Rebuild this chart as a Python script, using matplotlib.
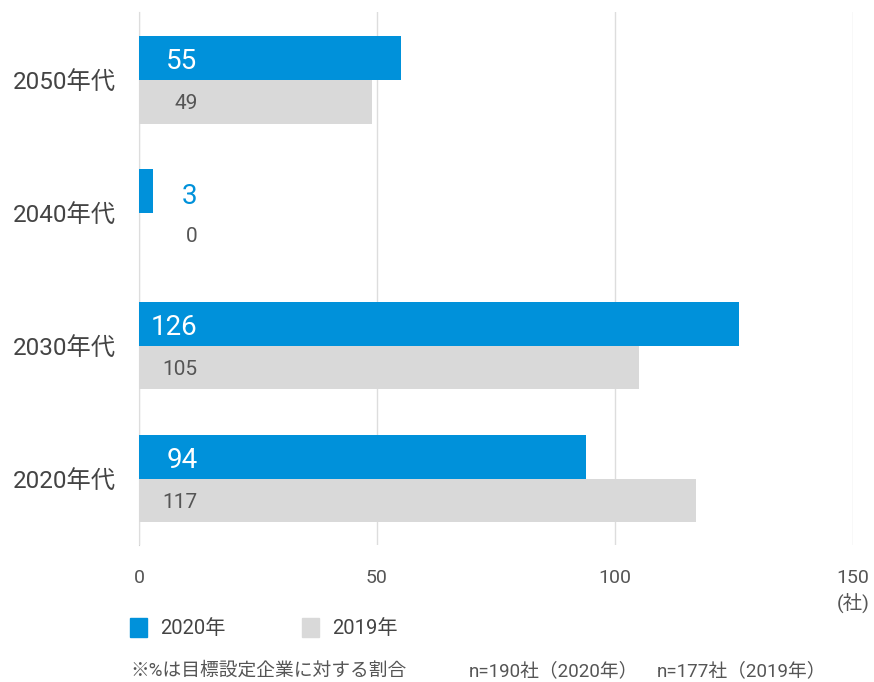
import numpy as np
import matplotlib.pyplot as plt
from matplotlib.patches import Rectangle

plt.rcParams['font.family'] = ['Roboto', 'Noto Sans CJK JP', 'DejaVu Sans']

categories = ['2020年代', '2030年代', '2040年代', '2050年代']
values_2020 = [94, 126, 3, 55]
values_2019 = [117, 105, 0, 49]
series_names = ['2020年', '2019年']

BLUE = '#0091DA'
GRAY = '#D9D9D9'

fig = plt.figure(figsize=(8.74, 6.82), dpi=100)
ax = fig.add_axes([139 / 874, 1 - 545 / 682, (853 - 139) / 874, (545 - 12) / 682])

y = np.arange(len(categories))
h = 0.33
ax.barh(y + h / 2, values_2020, height=h, color=BLUE, zorder=2)
ax.barh(y - h / 2, values_2019, height=h, color=GRAY, zorder=2)

# value labels, right-aligned near the axis; small values sit outside the bar
for yi, v in zip(y, values_2020):
    inside = v > 15
    col = 'white' if inside else BLUE
    dy = -0.03 if inside else -0.045
    ax.text(12.3, yi + h / 2 + dy, str(v), ha='right', va='center', fontsize=20, color=col, zorder=3)
for yi, v in zip(y, values_2019):
    ax.text(12.3, yi - h / 2 - 0.017, str(v), ha='right', va='center', fontsize=15, color='#555555', zorder=3)

ax.set_xlim(0, 150)
ax.set_ylim(-0.5, 3.51)
ax.set_xticks([0, 50, 100, 150])
ax.set_yticks(y)
ax.set_yticklabels(categories, fontsize=17.5, color='#444444')
ax.tick_params(axis='x', labelsize=14, colors='#555555', length=0, pad=17)
ax.tick_params(axis='y', length=0, pad=17)
ax.grid(axis='x', color='#DDDDDD', linewidth=1, zorder=0)
for s in ['top', 'right', 'bottom']:
    ax.spines[s].set_visible(False)
ax.spines['left'].set_color('#D0D0D0')
ax.spines['left'].set_zorder(1)

fig.text(853 / 874, 1 - 603 / 682, '(社)', ha='center', va='center', fontsize=14, color='#555555')

# legend
for x0, col, name in [(130, BLUE, series_names[0]), (302, GRAY, series_names[1])]:
    fig.patches.append(Rectangle((x0 / 874, 1 - 637 / 682), 17 / 874, 19 / 682,
                                 transform=fig.transFigure, color=col))
    fig.text((x0 + 30) / 874, 1 - 628 / 682, name, ha='left', va='center', fontsize=14.5, color='#444444')

fig.text(130 / 874, 1 - 671 / 682, '※%は目標設定企業に対する割合', ha='left', va='center',
         fontsize=13.5, color='#555555')
fig.text(469 / 874, 1 - 671 / 682, 'n=190社（2020年）', ha='left', va='center',
         fontsize=13.5, color='#555555')
fig.text(657 / 874, 1 - 671 / 682, 'n=177社（2019年）', ha='left', va='center',
         fontsize=13.5, color='#555555')

fig.savefig('out.png', dpi=100)
